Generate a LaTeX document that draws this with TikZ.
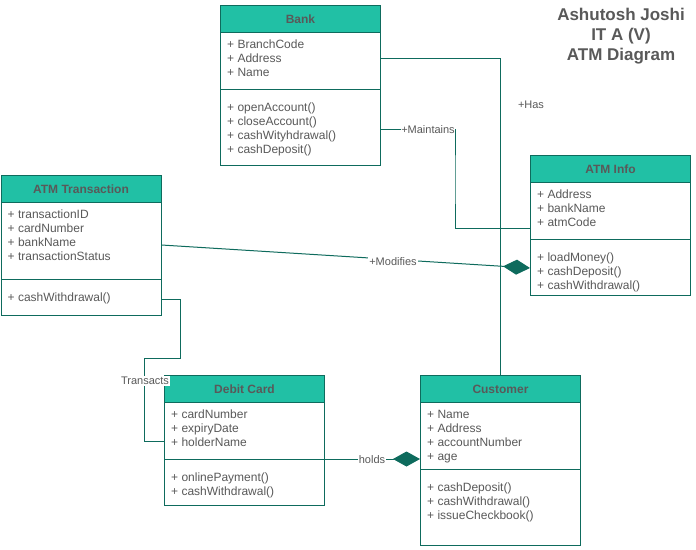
\documentclass[tikz,border=0pt]{standalone}
\usepackage{fontspec}
\setmainfont{Liberation Sans}
\usetikzlibrary{arrows.meta}
\definecolor{hdrfill}{HTML}{21C0A5}
\definecolor{edge}{HTML}{0E6B5D}
\definecolor{txtgray}{HTML}{595959}
\tikzset{
  hdrbox/.style={draw=edge, line width=1pt, fill=hdrfill, inner sep=0pt, text=txtgray, font=\fontsize{12}{14}\selectfont\bfseries},
  cbox/.style={draw=edge, line width=1pt, fill=white, inner sep=0pt},
  txt/.style={inner sep=0pt, align=left, text=txtgray, font=\fontsize{12}{14}\selectfont},
  conn/.style={draw=edge, line width=1pt},
  lbl/.style={fill=white, inner sep=1pt, text=txtgray, font=\fontsize{11}{13}\selectfont},
  diam/.style={-{Diamond[fill=edge, length=27pt, width=15pt]}},
  ttl/.style={inner sep=0pt, align=center, text=txtgray, font=\fontsize{17}{20}\selectfont\bfseries}
}
\newcommand{\umlcls}[9]{%
  \node[hdrbox, minimum width=160pt, minimum height={(#4-#3)*1pt}, anchor=north west] (#1) at (#2,#3) {#7};
  \node[cbox, minimum width=160pt, minimum height={(#5-#4)*1pt}, anchor=north west] (#1A) at (#2,#4) {};
  \node[cbox, minimum width=160pt, minimum height={(#6-#5)*1pt}, anchor=north west] (#1M) at (#2,#5) {};
  \node[txt, anchor=north west] (#1At) at ([xshift=7pt,yshift=-8pt]#1A.north west) {#8};
  \node[txt, anchor=north west] (#1Mt) at ([xshift=7pt,yshift=-14pt]#1M.north west) {#9};
}
\begin{document}
\begin{tikzpicture}[x=1pt, y=-1pt]
\useasboundingbox (0,0) rectangle (696,549);
\fill[white] (0,0) rectangle (696,549);

\umlcls{bank}{220}{5}{32}{89}{165}{Bank}{+ BranchCode\\+ Address\\+ Name}{+ openAccount()\\+ closeAccount()\\+ cashWityhdrawal()\\+ cashDeposit()}
\umlcls{tran}{0.5}{175}{202}{279}{315}{ATM Transaction}{+ transactionID\\+ cardNumber\\+ bankName\\+ transactionStatus}{+ cashWithdrawal()}
\umlcls{info}{530}{155}{182}{239}{295}{ATM Info}{+ Address\\+ bankName\\+ atmCode}{+ loadMoney()\\+ cashDeposit()\\+ cashWithdrawal()}
\umlcls{dc}{164}{375}{402}{459}{505}{Debit Card}{+ cardNumber\\+ expiryDate\\+ holderName}{+ onlinePayment()\\+ cashWithdrawal()}
\umlcls{cust}{420}{375}{402}{469}{545}{Customer}{+ Name\\+ Address\\+ accountNumber\\+ age}{+ cashDeposit()\\+ cashWithdrawal()\\+ issueCheckbook()}

% title
\node[ttl] (title) at (621,36) {Ashutosh Joshi\\IT A (V)\\ATM Diagram};

% Has
\draw[conn] (bankA.east |- 0,58) -| (cust.north);
\node[text=txtgray, font=\fontsize{11}{13}\selectfont, inner sep=0pt] (haslbl) at (531,105) {+Has};

% Maintains
\coordinate (mtc) at (455,180);
\draw[conn] (bankM.east |- 0,129) -| (mtc) |- (infoA.west |- 0,228);
\node[lbl, inner sep=0.5pt] (mlbl) at (428,130) {+Maintains};

% Modifies
\draw[conn, diam] (tranA.east |- 0,245) -- (infoM.west |- 0,268);
\node[lbl] (modlbl) at (393,262) {+Modifies};

% Transacts
\coordinate (t1) at (180,358);
\coordinate (t2) at (144,441);
\draw[conn] (tranM.east |- 0,299) -| (t1) -| (t2) -- (dcA.west |- t2);
\node[lbl] (tlbl) at (145,381) {Transacts};

% holds
\draw[conn, diam] (dcM.north east) -- (custA.west |- 0,459);
\node[lbl] (hlbl) at (372,460) {holds};
\end{tikzpicture}
\end{document}
